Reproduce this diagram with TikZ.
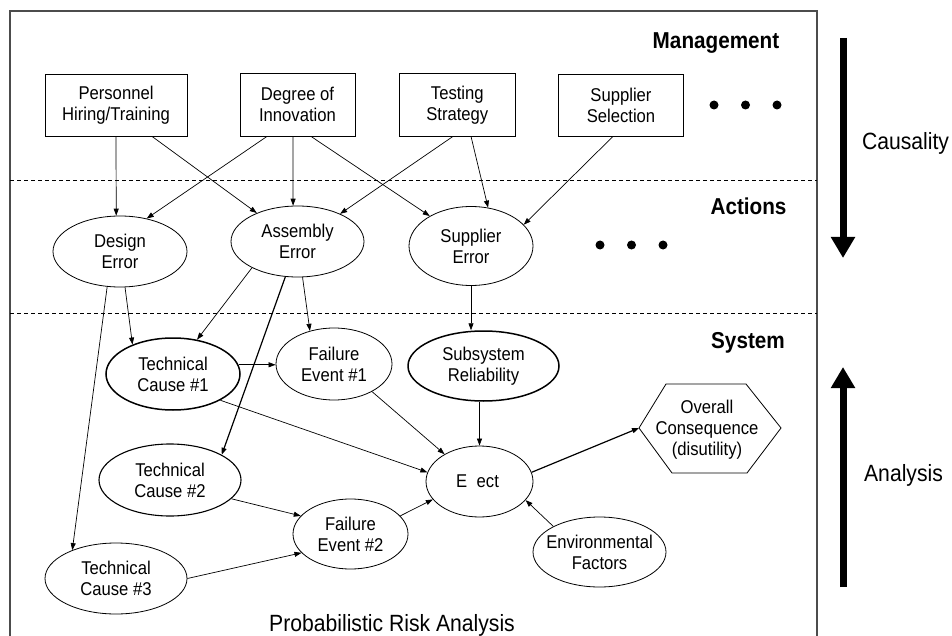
\documentclass[tikz,border=0pt]{standalone}
\usepackage{fontspec}
\setmainfont{Liberation Sans}[FakeStretch=0.9]
\usetikzlibrary{arrows.meta,shapes.geometric}
\newcommand\nodefont{\fontsize{18.5}{21}\selectfont}
\newcommand\bigfont{\fontsize{23.5}{26}\selectfont}
\newcommand\headfont{\fontsize{23}{26}\selectfont\bfseries}
\begin{document}
\begin{tikzpicture}[x=1pt,y=-1pt,
  frame/.style={draw=black!70, line width=1.5pt},
  sep/.style={line width=0.7pt, dash pattern=on 4pt off 3pt},
  box/.style={draw, rectangle, line width=0.8pt, inner sep=0pt, align=center, font=\nodefont},
  ell/.style={draw, ellipse, line width=0.8pt, inner sep=0pt},
  ellb/.style={ell, line width=1.5pt},
  ellm/.style={ell, line width=1.1pt},
  lbl/.style={align=center, inner sep=0pt, font=\nodefont},
  head/.style={inner sep=0pt, font=\headfont},
  side/.style={inner sep=0pt, font=\bigfont},
  arr/.style={-{Triangle[length=7pt,width=5pt]}, line width=0.7pt},
  arrb/.style={arr, line width=1.2pt},
  bigarrow/.style={line width=7pt, -{Triangle[length=21pt,width=23pt]}},
  hexa/.style={draw, line width=0.8pt, line join=miter}
]
\useasboundingbox (0,0) rectangle (952,636);

% frame and separators
\draw[frame] (10,636) -- (10,11) -- (817,11) -- (817,636);
\draw[sep] (10,180) -- (817,180);
\draw[sep] (10,313) -- (817,313);

% level labels
\node[head] (lman) at (716,43) {Management};
\node[head] (lact) at (748.5,206) {Actions};
\node[head] (lsys) at (748,343) {System};

% management boxes
\node[box, minimum width=142pt, minimum height=62pt] (pers) at (116,105) {Personnel\\Hiring/Training};
\node[box, minimum width=115pt, minimum height=62.5pt] (deg) at (297.5,104.75) {Degree of\\Innovation};
\node[box, minimum width=115.7pt, minimum height=62.5pt] (test) at (457.3,104.75) {Testing\\Strategy};
\node[box, minimum width=124.5pt, minimum height=62pt] (sup) at (621,105) {Supplier\\Selection};

% dots
\fill (714,105) circle (4.5pt);
\fill (745.5,105) circle (4.5pt);
\fill (777,105) circle (4.5pt);
\fill (600,245) circle (4.5pt);
\fill (631.5,245) circle (4.5pt);
\fill (663,245) circle (4.5pt);

% action ellipses
\node[ell, minimum width=134pt, minimum height=71pt] (de) at (120,251.5) {};
\node[lbl] (de-t) at (de) {Design\\Error};
\node[ell, minimum width=133pt, minimum height=71pt] (ae) at (297.5,241.5) {};
\node[lbl] (ae-t) at (ae) {Assembly\\Error};
\node[ell, minimum width=124pt, minimum height=79pt] (se) at (471,246) {};
\node[lbl] (se-t) at (se) {Supplier\\Error};

% system ellipses
\node[ellb, minimum width=134pt, minimum height=72pt] (tc1) at (173,374) {};
\node[lbl] (tc1-t) at (tc1) {Technical\\Cause \#1};
\node[ell, minimum width=116pt, minimum height=72pt] (fe1) at (334,364) {};
\node[lbl] (fe1-t) at (fe1) {Failure\\Event \#1};
\node[ellb, minimum width=151pt, minimum height=70pt] (ss) at (483.5,366) {};
\node[lbl] (ss-t) at (ss) {Subsystem\\Reliability};
\node[ellm, minimum width=142pt, minimum height=72pt] (tc2) at (170,480) {};
\node[lbl] (tc2-t) at (tc2) {Technical\\Cause \#2};
\node[ell, minimum width=115pt, minimum height=70pt] (fe2) at (350.5,534) {};
\node[lbl] (fe2-t) at (fe2) {Failure\\Event \#2};
\node[ell, minimum width=142pt, minimum height=71pt] (tc3) at (116,578.5) {};
\node[lbl] (tc3-t) at (tc3) {Technical\\Cause \#3};
\node[ell, minimum width=107pt, minimum height=71pt] (eff) at (479.5,481.5) {};
\node[lbl] (eff-t) at (477.5,481.5) {E\hspace{9.5pt}ect};
\node[ell, minimum width=133pt, minimum height=70pt] (env) at (599.5,552) {};
\node[lbl] (env-t) at (env) {Environmental\\Factors};

% consequence hexagon
\draw[hexa] (639,428) -- (666,384) -- (746,384) -- (781,428) -- (747,473) -- (672,473) -- cycle;
\coordinate (hxL) at (639,428);
\node[lbl] (cons) at (707,430) {Overall\\Consequence\\(disutility)};

% management -> actions
\draw[arr] (pers.south) -- (de.96);
\draw[arr] ([xshift=36pt]pers.south) -- (ae.145);
\draw[arr] ([xshift=-30.5pt]deg.south) -- (de.51);
\draw[arr] ([xshift=-4.5pt]deg.south) -- (ae.97);
\draw[arr] ([xshift=13.5pt]deg.south) -- (se.144);
\draw[arr] ([xshift=-4.3pt]test.south) -- (ae.33.5);
\draw[arr] ([xshift=13.7pt]test.south) -- (se.66);
\draw[arr] ([xshift=-8pt]sup.south) -- (se.22.5);

% actions -> system
\draw[arr] (de.-110.5) -- (tc3.147);
\draw[arr] (de.-82) -- (tc1.144);
\draw[arr] (ae.-150.4) -- (tc1.55.6);
\draw[arrb] (ae.-109.7) -- (tc2.26);
\draw[arr] (ae.-82.8) -- (fe1.126);
\draw[arr] (se.south) -- (se.south |- ss.north);

% system
\draw[arr] (tc1.8) -- (tc1.8 -| fe1.west);
\draw[arr] (tc1.-29.7) -- (eff.170);
\draw[arr] (fe1.-36.6) -- (eff.142);
\draw[arr] (eff.north |- ss.south) -- (eff.north);
\draw[arr] (tc2.-17.9) -- (fe2.160.7);
\draw[arr] (tc3.east) -- (fe2.-159);
\draw[arr] (fe2.20.2) -- (eff.-159);
\draw[arr] (env.151.8) -- (eff.-22.6);
\draw[arrb] (eff.10) -- (hxL);

% title
\node[side] (title) at (392,625) {Probabilistic Risk Analysis};

% side arrows
\coordinate (ca1) at (843,38);
\coordinate (ca2) at (843,258);
\draw[bigarrow] (ca1) -- (ca2);
\node[side] (caus) at (905.5,143) {Causality};
\coordinate (an1) at (843,587);
\coordinate (an2) at (843,367);
\draw[bigarrow] (an1) -- (an2);
\node[side] (anal) at (903.5,475) {Analysis};
\end{tikzpicture}
\end{document}
